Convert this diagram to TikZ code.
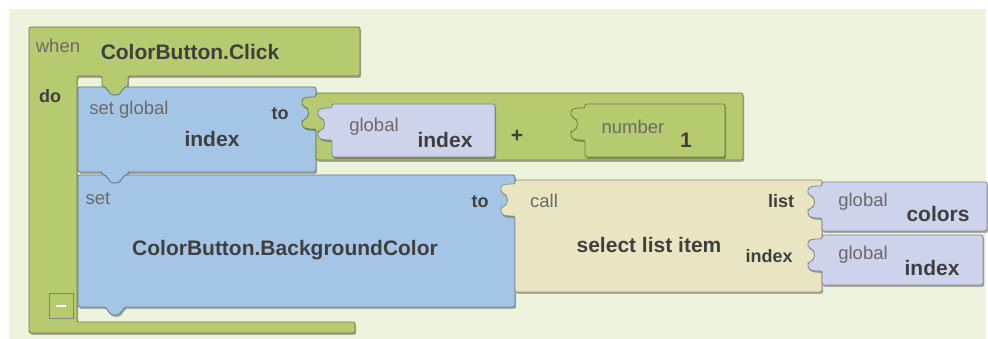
\documentclass[tikz,border=0pt]{standalone}
\usepackage{fontspec}
\setmainfont{Liberation Sans}
\usetikzlibrary{shadows}
\definecolor{bgcol}{HTML}{EEF3DE}
\definecolor{evgreen}{HTML}{B6CA70}
\definecolor{setblue}{HTML}{A5C5E6}
\definecolor{getlav}{HTML}{CCD3EB}
\definecolor{callcream}{HTML}{E9E5C3}
\definecolor{txtdark}{HTML}{3F3F3F}
\definecolor{txtgray}{HTML}{6A6A6A}
% value plug on the left edge of a block, drawn upwards
\newcommand{\plug}[2]{-- (#1,#2+36) .. controls (#1-8,#2+36) and (#1-14,#2+36) .. (#1-14,#2+29) -- (#1-14,#2+27) .. controls (#1-6,#2+26) and (#1-6,#2+14) .. (#1-14,#2+13) -- (#1-14,#2+10) .. controls (#1-14,#2+4) and (#1-8,#2+4) .. (#1,#2+4)}
% statement notch on the top edge, left to right
\newcommand{\notchtop}[1]{-- (102,#1) .. controls (107,#1) and (109,#1+8) .. (115,#1+8) .. controls (121,#1+8) and (123,#1) .. (128,#1)}
% statement tab on the bottom edge, right to left
\newcommand{\tabbot}[1]{-- (128,#1) -- (128,#1+3) .. controls (123,#1+3) and (121,#1+11) .. (115,#1+11) .. controls (109,#1+11) and (107,#1+3) .. (102,#1+3) -- (102,#1)}
\begin{document}
\begin{tikzpicture}[x=1pt,y=-1pt,
    blk/.style={fill=#1, draw=#1!62!black, line width=0.8pt, rounded corners=2,
      drop shadow={shadow xshift=1.2pt, shadow yshift=-1.8pt, fill=black, opacity=0.3}},
    bigtxt/.style={font=\fontsize{21}{24}\selectfont\bfseries, text=txtdark, anchor=base, inner sep=0pt},
    lbltxt/.style={font=\fontsize{18}{21}\selectfont\bfseries, text=txtdark, anchor=base, inner sep=0pt},
    smltxt/.style={font=\fontsize{18.5}{21}\selectfont, text=txtgray, anchor=base, inner sep=0pt}]
    \useasboundingbox (0,0) rectangle (988,339);
    \fill[bgcol] (9,9) rectangle (986,339);
    %% event block
    \path[blk=evgreen] (29,27) -- (360,27) -- (360,76) -- (128,76) -- (128,87) .. controls (123,87) and (121,95) .. (115,95) .. controls (109,95) and (107,87) .. (102,87) -- (102,76) -- (77,76) -- (77,322) -- (355,322) -- (355,333) -- (29,333) -- cycle;
    %% set global index
    \path[blk=setblue] (78,87) \notchtop{87} -- (316,87) -- (316,172) \tabbot{172} -- (78,172) -- cycle;
    %% set ColorButton.BackgroundColor
    \path[blk=setblue] (78,175) \notchtop{175} -- (515,175) -- (515,307) -- (128,307) .. controls (123,307) and (121,315) .. (115,315) .. controls (109,315) and (107,307) .. (102,307) -- (78,307) -- cycle;
    %% plus block and its arguments
    \path[blk=evgreen] (316,93) -- (743,93) -- (743,160) -- (316,160) \plug{316}{93} -- cycle;
    \path[blk=getlav] (332,104) -- (495,104) -- (495,157) -- (332,157) \plug{332}{104} -- cycle;
    \path[blk=evgreen] (585,104) -- (725,104) -- (725,157) -- (585,157) \plug{585}{104} -- cycle;
    %% select list item block and its arguments
    \path[blk=callcream] (515,180) -- (822,180) -- (822,292) -- (515,292) \plug{515}{180} -- cycle;
    \path[blk=getlav] (822,182) -- (987,182) -- (987,231) -- (822,231) \plug{822}{182} -- cycle;
    \path[blk=getlav] (822,235) -- (983,235) -- (983,285) -- (822,285) \plug{822}{235} -- cycle;
    %% collapse box
    \draw[fill=evgreen, draw=black!50, line width=0.8pt] (49,293) rectangle (73,318);
    \draw[white, line width=2.5pt] (56,306) -- (66,306);
    %% texts
    \node (when) at (58,53) [smltxt] {when};
    \node (click) at (190,60) [bigtxt] {ColorButton.Click};
    \node (do) at (50,103) [lbltxt] {do};
    \node (setglobal) at (129,115) [smltxt] {set global};
    \node (to1) at (280,120) [lbltxt] {to};
    \node (idx1) at (212,147) [bigtxt] {index};
    \node (glob1) at (374,132) [smltxt] {global};
    \node (idx2) at (445,148) [bigtxt] {index};
    \node (plus) at (517,143) [bigtxt] {+};
    \node (number) at (633,134) [smltxt] {number};
    \node (one) at (686,148) [bigtxt] {1};
    \node (set) at (98,205) [smltxt] {set};
    \node (to2) at (480,208) [lbltxt] {to};
    \node (bgcolor) at (285,255) [bigtxt] {ColorButton.BackgroundColor};
    \node (call) at (544,208) [smltxt] {call};
    \node (select) at (649,252) [bigtxt] {select list item};
    \node (list) at (781,208) [lbltxt] {list};
    \node (index) at (769,262) [lbltxt] {index};
    \node (glob2) at (863,207) [smltxt] {global};
    \node (colors) at (938,222) [bigtxt] {colors};
    \node (glob3) at (863,259) [smltxt] {global};
    \node (idx3) at (932,275) [bigtxt] {index};
    %
\end{tikzpicture}
\end{document}
